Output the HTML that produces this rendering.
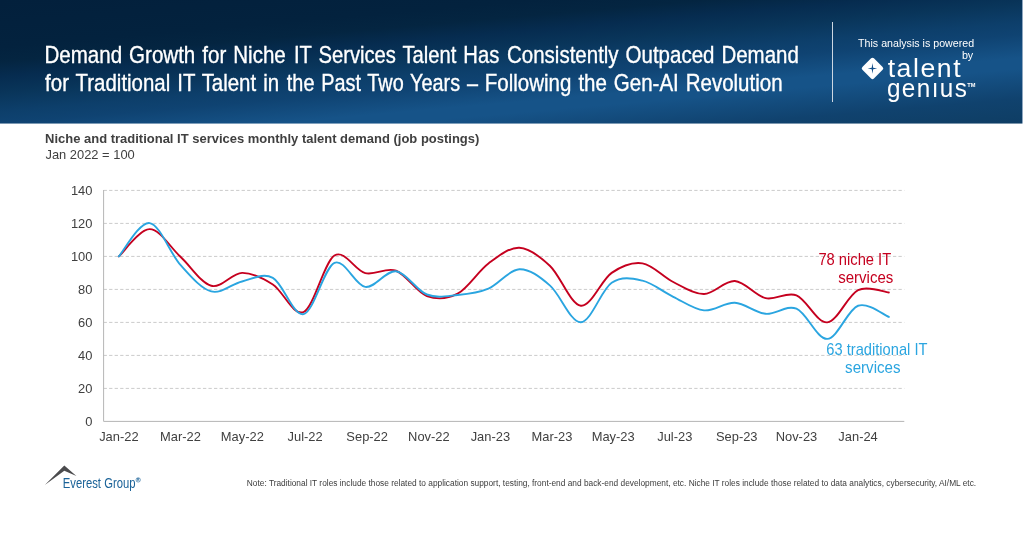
<!DOCTYPE html>
<html><head><meta charset="utf-8">
<style>
html,body{margin:0;padding:0;background:#fff;}
body{width:1023px;height:535px;position:relative;overflow:hidden;font-family:"Liberation Sans",sans-serif;}
#hdr{position:absolute;left:0;top:0;width:1022px;height:124px;
background:linear-gradient(175deg,#03203c 0%,#03223e 22%,#042541 29%,#062c50 36%,#09355a 43.5%,#0d3f6b 52.3%,#0f4372 58%,#165388 69%,#165388 74%,#10426e 88%,#0f3f67 96%,#0e3d65 100%);}
#hdrb{position:absolute;left:0;top:123px;width:1023px;height:1px;background:rgba(255,255,255,0.45);}
#hdrr{position:absolute;left:1022px;top:0;width:1px;height:124px;background:#8fa7c0;}
#vline{position:absolute;left:832px;top:22px;width:1px;height:80px;background:#cdd7e2;}
svg{position:absolute;left:0;top:0;will-change:transform;}
</style></head><body>
<div id="hdr"></div><div id="hdrr"></div><div id="hdrb"></div>
<div id="vline"></div>
<svg width="1023" height="535" viewBox="0 0 1023 535">
<line x1="103.6" y1="388.40" x2="904.3" y2="388.40" stroke="#cbcbcb" stroke-width="1" stroke-dasharray="3.3 2.22"/>
<line x1="103.6" y1="355.40" x2="904.3" y2="355.40" stroke="#cbcbcb" stroke-width="1" stroke-dasharray="3.3 2.22"/>
<line x1="103.6" y1="322.40" x2="904.3" y2="322.40" stroke="#cbcbcb" stroke-width="1" stroke-dasharray="3.3 2.22"/>
<line x1="103.6" y1="289.40" x2="904.3" y2="289.40" stroke="#cbcbcb" stroke-width="1" stroke-dasharray="3.3 2.22"/>
<line x1="103.6" y1="256.40" x2="904.3" y2="256.40" stroke="#cbcbcb" stroke-width="1" stroke-dasharray="3.3 2.22"/>
<line x1="103.6" y1="223.40" x2="904.3" y2="223.40" stroke="#cbcbcb" stroke-width="1" stroke-dasharray="3.3 2.22"/>
<line x1="103.6" y1="190.40" x2="904.3" y2="190.40" stroke="#cbcbcb" stroke-width="1" stroke-dasharray="3.3 2.22"/>

<line x1="103.6" y1="190" x2="103.6" y2="421.4" stroke="#b5b5b5" stroke-width="1"/>
<line x1="103.6" y1="421.4" x2="904.3" y2="421.4" stroke="#b5b5b5" stroke-width="1"/>
<text transform="translate(92.4 426.00) scale(1.0 1)" text-anchor="end" font-family="Liberation Sans, sans-serif" font-size="12.9" fill="#404040">0</text>
<text transform="translate(92.4 393.00) scale(1.0 1)" text-anchor="end" font-family="Liberation Sans, sans-serif" font-size="12.9" fill="#404040">20</text>
<text transform="translate(92.4 360.00) scale(1.0 1)" text-anchor="end" font-family="Liberation Sans, sans-serif" font-size="12.9" fill="#404040">40</text>
<text transform="translate(92.4 327.00) scale(1.0 1)" text-anchor="end" font-family="Liberation Sans, sans-serif" font-size="12.9" fill="#404040">60</text>
<text transform="translate(92.4 294.00) scale(1.0 1)" text-anchor="end" font-family="Liberation Sans, sans-serif" font-size="12.9" fill="#404040">80</text>
<text transform="translate(92.4 261.00) scale(1.0 1)" text-anchor="end" font-family="Liberation Sans, sans-serif" font-size="12.9" fill="#404040">100</text>
<text transform="translate(92.4 228.00) scale(1.0 1)" text-anchor="end" font-family="Liberation Sans, sans-serif" font-size="12.9" fill="#404040">120</text>
<text transform="translate(92.4 195.00) scale(1.0 1)" text-anchor="end" font-family="Liberation Sans, sans-serif" font-size="12.9" fill="#404040">140</text>

<text transform="translate(118.85 440.6) scale(1.0 1)" text-anchor="middle" font-family="Liberation Sans, sans-serif" font-size="12.9" fill="#404040">Jan-22</text>
<text transform="translate(180.45 440.6) scale(1.0 1)" text-anchor="middle" font-family="Liberation Sans, sans-serif" font-size="12.9" fill="#404040">Mar-22</text>
<text transform="translate(242.35 440.6) scale(1.0 1)" text-anchor="middle" font-family="Liberation Sans, sans-serif" font-size="12.9" fill="#404040">May-22</text>
<text transform="translate(305.15 440.6) scale(1.0 1)" text-anchor="middle" font-family="Liberation Sans, sans-serif" font-size="12.9" fill="#404040">Jul-22</text>
<text transform="translate(367.15 440.6) scale(1.0 1)" text-anchor="middle" font-family="Liberation Sans, sans-serif" font-size="12.9" fill="#404040">Sep-22</text>
<text transform="translate(428.85 440.6) scale(1.0 1)" text-anchor="middle" font-family="Liberation Sans, sans-serif" font-size="12.9" fill="#404040">Nov-22</text>
<text transform="translate(490.35 440.6) scale(1.0 1)" text-anchor="middle" font-family="Liberation Sans, sans-serif" font-size="12.9" fill="#404040">Jan-23</text>
<text transform="translate(551.95 440.6) scale(1.0 1)" text-anchor="middle" font-family="Liberation Sans, sans-serif" font-size="12.9" fill="#404040">Mar-23</text>
<text transform="translate(613.15 440.6) scale(1.0 1)" text-anchor="middle" font-family="Liberation Sans, sans-serif" font-size="12.9" fill="#404040">May-23</text>
<text transform="translate(674.75 440.6) scale(1.0 1)" text-anchor="middle" font-family="Liberation Sans, sans-serif" font-size="12.9" fill="#404040">Jul-23</text>
<text transform="translate(736.75 440.6) scale(1.0 1)" text-anchor="middle" font-family="Liberation Sans, sans-serif" font-size="12.9" fill="#404040">Sep-23</text>
<text transform="translate(796.45 440.6) scale(1.0 1)" text-anchor="middle" font-family="Liberation Sans, sans-serif" font-size="12.9" fill="#404040">Nov-23</text>
<text transform="translate(858.05 440.6) scale(1.0 1)" text-anchor="middle" font-family="Liberation Sans, sans-serif" font-size="12.9" fill="#404040">Jan-24</text>

<path d="M118.85 256.40 C123.98 251.86 139.38 229.12 149.65 229.17 C159.92 229.23 170.18 247.30 180.45 256.73 C190.72 266.16 200.98 283.07 211.25 285.77 C221.52 288.46 231.78 273.12 242.05 272.90 C252.32 272.68 262.58 277.93 272.85 284.45 C283.12 290.97 293.38 316.82 303.65 312.00 C313.92 307.19 324.18 262.06 334.45 255.57 C344.72 249.08 354.98 270.53 365.25 273.06 C375.52 275.59 385.78 266.93 396.05 270.75 C406.32 274.58 416.58 292.18 426.85 296.00 C437.12 299.82 447.38 299.11 457.65 293.69 C467.92 288.27 478.18 271.14 488.45 263.50 C498.72 255.85 508.98 247.41 519.25 247.82 C529.52 248.23 539.78 256.32 550.05 265.97 C560.32 275.62 570.58 304.58 580.85 305.74 C591.12 306.89 601.38 279.97 611.65 272.90 C621.92 265.83 632.18 261.82 642.45 263.33 C652.72 264.84 662.98 276.86 673.25 281.98 C683.52 287.09 693.78 294.19 704.05 294.02 C714.32 293.85 724.58 280.30 734.85 280.99 C745.12 281.67 755.38 295.75 765.65 298.14 C775.92 300.54 786.18 291.30 796.45 295.34 C806.72 299.38 816.98 323.28 827.25 322.40 C837.52 321.52 847.78 295.04 858.05 290.06 C868.32 285.08 883.72 292.12 888.85 292.53" fill="none" stroke="#c5001f" stroke-width="1.9" stroke-linecap="round" stroke-linejoin="round"/>
<path d="M118.85 256.40 C123.98 250.84 139.38 221.64 149.65 223.07 C159.92 224.50 170.18 253.60 180.45 264.98 C190.72 276.37 200.98 288.63 211.25 291.38 C221.52 294.13 231.78 283.74 242.05 281.48 C252.32 279.23 262.58 272.41 272.85 277.85 C283.12 283.30 293.38 316.65 303.65 314.15 C313.92 311.65 324.18 267.37 334.45 262.84 C344.72 258.30 354.98 285.52 365.25 286.92 C375.52 288.33 385.78 269.99 396.05 271.25 C406.32 272.51 416.58 290.56 426.85 294.51 C437.12 298.47 447.38 296.00 457.65 295.01 C467.92 294.02 478.18 292.87 488.45 288.57 C498.72 284.28 508.98 269.76 519.25 269.27 C529.52 268.77 539.78 276.78 550.05 285.61 C560.32 294.43 570.58 322.70 580.85 322.24 C591.12 321.77 601.38 289.73 611.65 282.80 C621.92 275.87 632.18 278.32 642.45 280.65 C652.72 282.99 662.98 291.88 673.25 296.82 C683.52 301.77 693.78 309.37 704.05 310.36 C714.32 311.35 724.58 302.19 734.85 302.76 C745.12 303.34 755.38 312.83 765.65 313.82 C775.92 314.81 786.18 304.52 796.45 308.70 C806.72 312.88 816.98 339.39 827.25 338.90 C837.52 338.40 847.78 309.39 858.05 305.74 C868.32 302.08 883.72 315.08 888.85 316.95" fill="none" stroke="#2aa5e0" stroke-width="1.9" stroke-linecap="round" stroke-linejoin="round"/>
<!-- talent genius logo -->
<g id="tg">
<path d="M872.50 59.75 L881.20 68.45 L872.50 77.15 L863.80 68.45 Z" fill="#fff" stroke="#fff" stroke-width="4.0" stroke-linejoin="round"/>
<polygon points="872.45,63.05 873.17,67.73 877.25,68.45 873.17,69.17 872.45,73.85 871.73,69.17 867.65,68.45 871.73,67.73" fill="#15508a"/>
</g>
<!-- Everest Group logo -->
<path d="M44.8 485.0 L64.3 465.6 L76.4 476.0 L64.3 470.8 Z" fill="#4b4b4d"/>
<circle cx="138.2" cy="479.9" r="2.15" fill="none" stroke="#1a6298" stroke-width="0.6"/><text x="138.25" y="481.1" text-anchor="middle" fill="#1a6298" font-family="Liberation Sans, sans-serif" font-weight="bold" font-size="3.3">R</text>
<text x="44.49" y="62.60" fill="#ffffff" font-family="Liberation Sans, sans-serif" font-size="23.7" textLength="241.29" lengthAdjust="spacingAndGlyphs" stroke="#ffffff" stroke-width="0.35" word-spacing="1.5">Demand Growth for Niche</text>
<text x="293.98" y="62.60" fill="#ffffff" font-family="Liberation Sans, sans-serif" font-size="23.7" textLength="205.28" lengthAdjust="spacingAndGlyphs" stroke="#ffffff" stroke-width="0.35" word-spacing="1.5">IT Services Talent Has</text>
<text x="507.06" y="62.60" fill="#ffffff" font-family="Liberation Sans, sans-serif" font-size="23.7" textLength="291.78" lengthAdjust="spacingAndGlyphs" stroke="#ffffff" stroke-width="0.35" word-spacing="1.5">Consistently Outpaced Demand</text>
<text x="45.11" y="90.80" fill="#ffffff" font-family="Liberation Sans, sans-serif" font-size="23.7" textLength="233.96" lengthAdjust="spacingAndGlyphs" stroke="#ffffff" stroke-width="0.35" word-spacing="1.5">for Traditional IT Talent in</text>
<text x="286.83" y="90.80" fill="#ffffff" font-family="Liberation Sans, sans-serif" font-size="23.7" textLength="191.12" lengthAdjust="spacingAndGlyphs" stroke="#ffffff" stroke-width="0.35" word-spacing="1.5">the Past Two Years –</text>
<text x="484.87" y="90.80" fill="#ffffff" font-family="Liberation Sans, sans-serif" font-size="23.7" textLength="297.68" lengthAdjust="spacingAndGlyphs" stroke="#ffffff" stroke-width="0.35" word-spacing="1.5">Following the Gen-AI Revolution</text>
<text x="858.08" y="46.60" fill="#ffffff" font-family="Liberation Sans, sans-serif" font-size="10.5" textLength="115.98" lengthAdjust="spacingAndGlyphs">This analysis is powered</text>
<text x="961.90" y="59.30" fill="#ffffff" font-family="Liberation Sans, sans-serif" font-size="10.2" textLength="11.35" lengthAdjust="spacingAndGlyphs">by</text>
<text x="45.09" y="143.00" fill="#404040" font-family="Liberation Sans, sans-serif" font-size="12.9" textLength="434.23" lengthAdjust="spacingAndGlyphs" font-weight="bold">Niche and traditional IT services monthly talent demand (job postings)</text>
<text x="45.52" y="158.60" fill="#404040" font-family="Liberation Sans, sans-serif" font-size="12.9" textLength="89.21" lengthAdjust="spacingAndGlyphs">Jan 2022 = 100</text>
<text x="246.81" y="485.60" fill="#3c3c3c" font-family="Liberation Sans, sans-serif" font-size="8.45" textLength="729.36" lengthAdjust="spacingAndGlyphs">Note: Traditional IT roles include those related to application support, testing, front-end and back-end development, etc. Niche IT roles include those related to data analytics, cybersecurity, AI/ML etc.</text>
<text x="818.39" y="265.00" fill="#c5001f" font-family="Liberation Sans, sans-serif" font-size="15.9" textLength="72.84" lengthAdjust="spacingAndGlyphs">78 niche IT</text>
<text x="838.18" y="283.00" fill="#c5001f" font-family="Liberation Sans, sans-serif" font-size="15.9" textLength="55.17" lengthAdjust="spacingAndGlyphs">services</text>
<text x="826.34" y="355.00" fill="#2aa5e0" font-family="Liberation Sans, sans-serif" font-size="15.9" textLength="101.12" lengthAdjust="spacingAndGlyphs">63 traditional IT</text>
<text x="845.11" y="373.00" fill="#2aa5e0" font-family="Liberation Sans, sans-serif" font-size="15.9" textLength="55.40" lengthAdjust="spacingAndGlyphs">services</text>
<text x="887.65" y="77.20" fill="#ffffff" font-family="Liberation Sans, sans-serif" font-size="25.5" textLength="74.54" lengthAdjust="spacingAndGlyphs" letter-spacing="1.5">talent</text>
<text x="886.96" y="96.70" fill="#ffffff" font-family="Liberation Sans, sans-serif" font-size="25.5" textLength="81.37" lengthAdjust="spacingAndGlyphs" letter-spacing="1.5">genıus</text>
<text x="967.16" y="87.10" fill="#ffffff" font-family="Liberation Sans, sans-serif" font-size="4.8" textLength="8.23" lengthAdjust="spacingAndGlyphs" font-weight="bold">TM</text>
<text x="62.81" y="487.70" fill="#1a6298" font-family="Liberation Sans, sans-serif" font-size="15.0" textLength="72.65" lengthAdjust="spacingAndGlyphs">Everest Group</text>

</svg>
</body></html>
